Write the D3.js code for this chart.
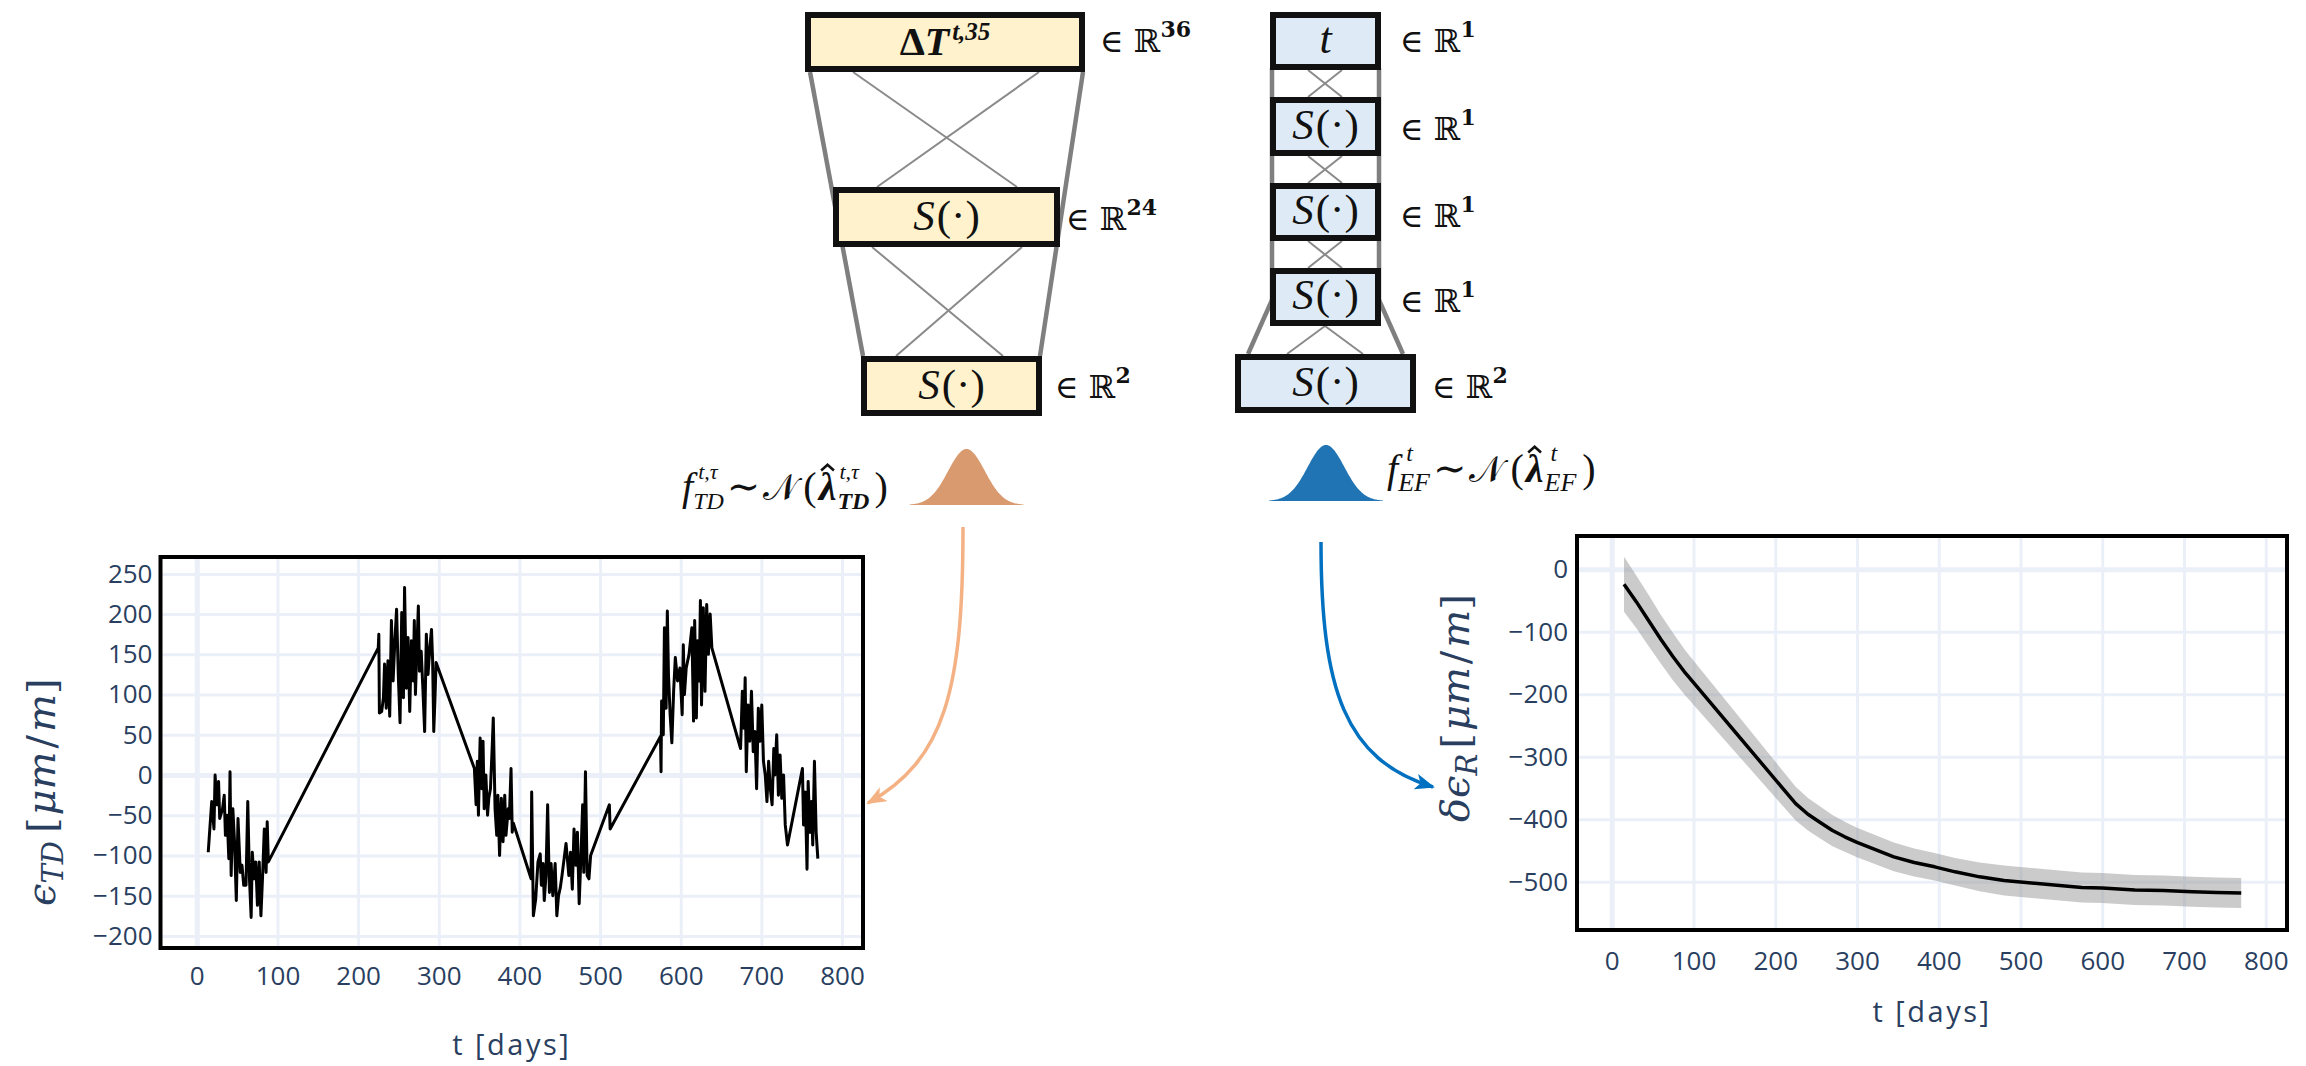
<!DOCTYPE html>
<html><head><meta charset="utf-8">
<script src="https://cdn.jsdelivr.net/npm/d3@7"></script>
<style>body{margin:0;background:#fff}svg{display:block}</style>
</head><body>
<svg id="fig" width="2306" height="1066"></svg>
<script>
// ================= DATA =================
// Left chart: temperature-driven strain eps_TD over time
const tdDays = [
 14.2,15.6,18.5,21.3,22.7,24.8,27,28.4,31.9,34,35.5,37.6,39.7,41.2,42.6,44.7,46.8,49,51.1,53.9,56,58.2,61,63.2,65.3,67.4,68.8,71,73.1,75.2,77.4,79.5,81.6,83.7,85.9,87.3,88.7,
 225,225.7,226.4,229.2,231.4,232.8,234.9,237,239.2,241.3,243.4,245.6,247.7,249.8,252,254.1,256.2,257.6,259.8,261.9,264,266.1,268.3,269.7,271.1,272.5,274.7,276.1,278.2,280.3,282.5,284.6,286.7,288.9,291,292.4,293.8,295.2,296.7,
 344.2,346.3,347.8,349.2,351.3,353.4,354.9,356.3,358.4,360.5,362,364.1,366.2,367.6,369.8,371.9,373.3,375.4,377.6,379.7,381.8,383.3,386.1,387.5,389.6,391.1,392.5,
 414.5,415.2,417.3,420.2,423,425.8,427.2,429.4,430.8,432.9,435,437.2,439.3,441.4,444.3,446.4,448.5,450.7,452.8,457.8,461.3,463.4,465.6,467.7,469.8,471.9,474.1,476.2,478.4,479.8,481.9,484,486.2,488.3,
 511.5,512.5,
 574.9,575.6,576.3,578.4,579.8,581.9,583.4,584.8,586.9,589,591.2,593.3,596.1,599,601.8,603.2,604.6,606.8,610.3,613.8,615.9,617.3,619.4,620.9,623,624.4,625.8,628,630.1,632.2,634.3,636.5,638.6,
 674.2,676.4,678.5,679.9,681.3,683.5,685.6,687.7,689.9,692,694.1,696.2,698.4,700.5,702.6,704.8,706.9,709,711.1,713.3,715.4,716.8,719,721.1,723.2,725.3,727.5,729.6,732.4,
 750.9,752.3,754.4,756.6,758,760.1,762.2,763.7,765.8,767.9,770
];
const tdStrain = [
 -96,-75,-33,-67,0,-37,-8,-54,-42,-25,-75,-50,-104,4,-125,-42,-83,-156,-54,-121,-112,-137,-137,-33,-129,-177,-96,-129,-108,-162,-108,-175,-125,-67,-121,-58,-108,
 158,175,77,79,96,138,83,142,73,192,117,167,206,125,65,202,96,233,108,171,79,167,117,192,100,146,210,129,154,108,54,175,125,158,181,142,54,92,140,
 8,-37,17,-50,46,-17,42,-42,0,-50,-29,-17,33,71,-42,-75,-25,-100,-29,-83,-25,-75,-42,-54,8,-71,-60,
 -129,-21,-175,-154,-108,-98,-137,-110,-156,-125,-37,-146,-110,-150,-110,-175,-150,-140,-125,-85,-125,-96,-142,-67,-112,-71,-160,-104,-37,-121,4,-125,-129,-100,
 -37,-67,
 48,4,92,50,183,83,204,125,75,40,104,146,117,133,75,162,100,133,150,183,67,192,71,167,117,217,87,208,104,212,150,200,158,
 33,104,58,121,4,87,42,104,29,54,-17,83,42,87,17,0,-33,17,-17,-37,33,0,50,-25,25,-29,0,-62,-87,
 8,-62,-21,-117,-8,-71,-33,-87,17,-71,-104
];
// Right chart: irreversible strain, mean and band half-width
const efDays = [15,30,45,60,75,90,225,240,255,270,285,300,345,370,395,420,450,480,575,600,625,640,675,710,740,770];
const efMean = [-24,-52,-82,-112,-140,-166,-375,-392,-405,-418,-428,-437,-460,-469,-476,-484,-492,-498,-509,-510,-512,-513,-514,-516,-517,-518];
const efHalfBand = [44,42,41,39,38,36,27,26,25.5,25,24,23.5,23,22.5,22,22,23,24,24,24,24,24,24,24,24,24];
// Tick labels
const xTicks = [0,100,200,300,400,500,600,700,800];
const tdYTicks = [-200,-150,-100,-50,0,50,100,150,200,250];
const efYTicks = [-500,-400,-300,-200,-100,0];
// Network layers
const tdLayerNames = ['ΔT','S(·)','S(·)'];
const tdLayerDims = ['36','24','2'];
const efLayerNames = ['t','S(·)','S(·)','S(·)','S(·)'];
const efLayerDims = ['1','1','1','1','2'];

// ================= LAYOUT / STYLE =================
const svg = d3.select('#fig');
const INK = '#2a3f5f';
const TICKFONT = '"Open Sans", "Noto Sans", sans-serif';
const MATHFONT = '"Liberation Serif", "DejaVu Serif", serif';
const GRID = '#ebf0f8';

function mathText(parent, pieces, family) {
  const g = parent.append('g');
  let x = 0;
  const put = (p, xx) => {
    const t = g.append('text').attr('x', xx).attr('y', p.dy || 0)
      .attr('font-family', p.f || family).attr('font-size', p.s)
      .attr('font-style', p.it ? 'italic' : 'normal')
      .attr('font-weight', p.b ? 'bold' : 'normal')
      .attr('fill', p.c || '#111').text(p.t);
    return t.node().getComputedTextLength();
  };
  pieces.forEach(p => {
    x += (p.pre || 0);
    if (p.stack) {
      const w = d3.max(p.stack, q => put(q, x + (q.dx || 0)) + (q.dx || 0));
      x += w + (p.gap || 0);
    } else {
      const w = put(p, x);
      if (p.hat) {
        // circumflex accent drawn as a small path above the glyph
        const cx = x + w / 2 + (p.hatDx || 0), s = p.s;
        g.append('path')
          .attr('d', `M${cx - s * 0.16},${-s * 0.74} L${cx},${-s * 0.88} L${cx + s * 0.16},${-s * 0.74}`)
          .attr('fill', 'none').attr('stroke', '#111').attr('stroke-width', 2.6).attr('stroke-linejoin', 'miter');
      }
      x += w + (p.gap || 0);
    }
  });
  return { g, width: x };
}

// ---------- charts ----------
function chart(opt) {
  const g = svg.append('g');
  const x = d3.scaleLinear().domain(opt.xDomain).range([opt.left, opt.right]);
  const y = d3.scaleLinear().domain(opt.yDomain).range([opt.bottom, opt.top]);
  const W = opt.right - opt.left, H = opt.bottom - opt.top;
  const gx = g.append('g').attr('transform', `translate(0,${opt.bottom})`)
    .call(d3.axisBottom(x).tickValues(xTicks).tickSize(-H).tickFormat(''));
  gx.select('.domain').remove();
  gx.selectAll('line').attr('stroke', GRID).attr('stroke-width', d => d === 0 ? 5 : 3);
  const gy = g.append('g').attr('transform', `translate(${opt.left},0)`)
    .call(d3.axisLeft(y).tickValues(opt.yTicks).tickSize(-W).tickFormat(''));
  gy.select('.domain').remove();
  gy.selectAll('line').attr('stroke', GRID).attr('stroke-width', d => d === 0 ? 5 : 3);
  const lx = g.append('g').attr('transform', `translate(0,${opt.bottom})`)
    .call(d3.axisBottom(x).tickValues(xTicks).tickSize(0).tickPadding(opt.xPad));
  const ly = g.append('g').attr('transform', `translate(${opt.left},0)`)
    .call(d3.axisLeft(y).tickValues(opt.yTicks).tickSize(0).tickPadding(opt.yPad));
  [lx, ly].forEach(a => {
    a.select('.domain').remove();
    a.selectAll('text').attr('font-family', TICKFONT).attr('font-size', 26).attr('fill', INK);
  });
  opt.draw(g, x, y);
  g.append('rect').attr('x', opt.left).attr('y', opt.top).attr('width', W).attr('height', H)
    .attr('fill', 'none').attr('stroke', '#000').attr('stroke-width', 4);
  g.append('text').attr('x', (opt.left + opt.right) / 2).attr('y', opt.xTitleY)
    .attr('text-anchor', 'middle').attr('font-family', TICKFONT).attr('font-size', 29)
    .attr('letter-spacing', 2.5).attr('fill', INK).text('t [days]');
  const yt = mathText(g, opt.yTitle, '"DejaVu Serif", serif');
  yt.g.attr('transform', `translate(${opt.yTitleX},${opt.yTitleY}) rotate(-90)`);
  return { x, y };
}

chart({
  left: 160.5, right: 863, top: 557, bottom: 948,
  xDomain: [-45, 826], yDomain: [-215, 271], yTicks: tdYTicks,
  xPad: 19, yPad: 8, xTitleY: 1055, yTitleX: 55, yTitleY: 906,
  yTitle: [
    { t: 'ϵ', s: 40, it: true, c: INK },
    { t: 'TD', s: 29, it: true, dy: 8, c: INK, gap: 8 },
    { t: '[', s: 40, c: INK, gap: 2 },
    { t: 'μm', s: 40, it: true, c: INK, gap: 3 },
    { t: '/', s: 40, c: INK, gap: 3 },
    { t: 'm', s: 40, it: true, c: INK },
    { t: ']', s: 40, c: INK }
  ],
  draw: (g, x, y) => {
    const line = d3.line().x((d, i) => x(tdDays[i])).y(d => y(d));
    g.append('path').attr('d', line(tdStrain)).attr('fill', 'none')
      .attr('stroke', '#000').attr('stroke-width', 3).attr('stroke-linejoin', 'round');
  }
});

chart({
  left: 1577, right: 2287, top: 536, bottom: 930,
  xDomain: [-42.5, 826], yDomain: [-577, 53], yTicks: efYTicks,
  xPad: 22, yPad: 9, xTitleY: 1022, yTitleX: 1469, yTitleY: 822,
  yTitle: [
    { t: 'δϵ', s: 40, it: true, c: INK },
    { t: 'R', s: 29, it: true, dy: 8, c: INK, gap: 5 },
    { t: '[', s: 40, c: INK, gap: 2 },
    { t: 'μm', s: 40, it: true, c: INK, gap: 3 },
    { t: '/', s: 40, c: INK, gap: 3 },
    { t: 'm', s: 40, it: true, c: INK },
    { t: ']', s: 40, c: INK }
  ],
  draw: (g, x, y) => {
    const area = d3.area().x((d, i) => x(efDays[i]))
      .y0((d, i) => y(d - efHalfBand[i])).y1((d, i) => y(d + efHalfBand[i]));
    g.append('path').attr('d', area(efMean)).attr('fill', 'rgba(140,140,140,0.45)');
    const line = d3.line().x((d, i) => x(efDays[i])).y(d => y(d));
    g.append('path').attr('d', line(efMean)).attr('fill', 'none')
      .attr('stroke', '#000').attr('stroke-width', 3.5).attr('stroke-linejoin', 'round');
  }
});

// ---------- network diagrams ----------
const net = svg.append('g');
const thick = (x1, y1, x2, y2) => net.append('line').attr('x1', x1).attr('y1', y1).attr('x2', x2).attr('y2', y2)
  .attr('stroke', '#7f7f7f').attr('stroke-width', 4.5);
const thin = (x1, y1, x2, y2) => net.append('line').attr('x1', x1).attr('y1', y1).attr('x2', x2).attr('y2', y2)
  .attr('stroke', '#8a8a8a').attr('stroke-width', 2);

thick(810, 72, 863, 356); thick(1083, 72, 1040, 356);
thin(853, 72, 1017, 187); thin(1039, 72, 877, 187);
thin(872, 247, 1003, 356); thin(1022, 247, 896, 356);
thick(1272, 68, 1272, 300); thick(1272, 300, 1248, 354);
thick(1379, 68, 1379, 300); thick(1379, 300, 1403, 354);
[[70, 97], [156, 183], [241, 268]].forEach(([a, b]) => { thin(1308, a, 1342, b); thin(1342, a, 1308, b); });
thin(1325, 326, 1287, 354); thin(1325, 326, 1363, 354);

const tdBoxes = [[805, 12, 1085, 72], [833, 187, 1060, 247], [861, 356, 1042, 416]];
const efBoxes = [[1270, 12, 1381, 70], [1270, 97, 1381, 156], [1270, 183, 1381, 241], [1270, 268, 1381, 326], [1235, 354, 1416, 413]];
const tdDimPos = [[1100, 52], [1066, 230], [1055, 398]];
const efDimPos = [[1400, 52], [1400, 140], [1400, 227], [1400, 312], [1432, 398]];

function drawBoxes(boxes, names, dims, dimPos, fill) {
  boxes.forEach((b, i) => {
    net.append('rect').attr('x', b[0] + 3).attr('y', b[1] + 3).attr('width', b[2] - b[0] - 6).attr('height', b[3] - b[1] - 6)
      .attr('fill', fill).attr('stroke', '#111').attr('stroke-width', 6);
    const name = names[i];
    let pieces;
    if (name === 'ΔT') pieces = [{ t: 'Δ', s: 40, b: true }, { t: 'T', s: 40, b: true, it: true, gap: 3 }, { t: 't,35', s: 25, b: true, it: true, dy: -15 }];
    else if (name === 't') pieces = [{ t: 't', s: 44, it: true }];
    else pieces = [{ t: 'S', s: 43, it: true, gap: 2 }, { t: '(·)', s: 43 }];
    const m = mathText(net, pieces, MATHFONT);
    const cx = (b[0] + b[2]) / 2, base = b[3] - 17;
    m.g.attr('transform', `translate(${cx - m.width / 2},${base})`);
    const d = mathText(net, [{ t: '∈ ℝ', s: 32, f: '"DejaVu Serif", serif' }, { t: dims[i], s: 22, b: true, dy: -15, f: '"DejaVu Serif", serif' }], MATHFONT);
    d.g.attr('transform', `translate(${dimPos[i][0]},${dimPos[i][1]})`);
  });
}
drawBoxes(tdBoxes, tdLayerNames, tdLayerDims, tdDimPos, '#fff2cc');
drawBoxes(efBoxes, efLayerNames, efLayerDims, efDimPos, '#deebf7');

// ---------- distribution icons ----------
function bell(cx, base, halfW, h, color) {
  const xs = d3.range(-halfW, halfW + 0.5, 1);
  const sig = halfW / 3.1;
  const area = d3.area().x(d => cx + d).y0(base).y1(d => base - h * Math.exp(-d * d / (2 * sig * sig)));
  svg.append('path').attr('d', area(xs)).attr('fill', color);
}
bell(966.5, 505, 57, 56, '#d89a6e');
bell(1326, 501, 57, 56, '#2174b3');

// ---------- formulas ----------
const fl = mathText(svg, [
  { t: 'f', s: 40, it: true, gap: 0 },
  { stack: [{ t: 't,τ', s: 22, it: true, dy: -21, dx: 5 }, { t: 'TD', s: 24, it: true, dy: 9 }], gap: 3 },
  { t: '∼', s: 40, gap: 3 },
  { t: '𝒩', s: 36, gap: 6 },
  { t: '(', s: 40, gap: 2 },
  { t: 'λ', s: 40, it: true, b: true, hat: true, gap: 1 },
  { stack: [{ t: 't,τ', s: 22, it: true, dy: -21, dx: 2 }, { t: 'TD', s: 24, it: true, b: true, dy: 9 }], gap: 5 },
  { t: ')', s: 40 }
], MATHFONT);
fl.g.attr('transform', `translate(682,500)`);
const fr = mathText(svg, [
  { t: 'f', s: 40, it: true, gap: 0 },
  { stack: [{ t: 't', s: 24, it: true, dy: -21, dx: 8 }, { t: 'EF', s: 26, it: true, dy: 9 }], gap: 3 },
  { t: '∼', s: 40, gap: 3 },
  { t: '𝒩', s: 36, gap: 7 },
  { t: '(', s: 40, gap: 2 },
  { t: 'λ', s: 40, it: true, b: true, hat: true, gap: 1 },
  { stack: [{ t: 't', s: 24, it: true, dy: -21, dx: 6 }, { t: 'EF', s: 26, it: true, dy: 9 }], gap: 6 },
  { t: ')', s: 40 }
], MATHFONT);
fr.g.attr('transform', `translate(1387,482)`);

// ---------- arrows ----------
const defs = svg.append('defs');
function marker(id, color) {
  defs.append('marker').attr('id', id).attr('viewBox', '0 0 20 16').attr('refX', 18).attr('refY', 8)
    .attr('markerWidth', 20).attr('markerHeight', 16).attr('markerUnits', 'userSpaceOnUse').attr('orient', 'auto')
    .append('path').attr('d', 'M0,0 L20,8 L0,16 L5,8 Z').attr('fill', color);
}
marker('arrO', '#f4b183'); marker('arrB', '#0070c0');
svg.append('path').attr('d', 'M963,527 C963,690 945,760 868,803').attr('fill', 'none')
  .attr('stroke', '#f4b183').attr('stroke-width', 3.5).attr('marker-end', 'url(#arrO)');
svg.append('path').attr('d', 'M1321,542 C1321,690 1345,760 1433,787').attr('fill', 'none')
  .attr('stroke', '#0070c0').attr('stroke-width', 3.5).attr('marker-end', 'url(#arrB)');
</script>
</body></html>
